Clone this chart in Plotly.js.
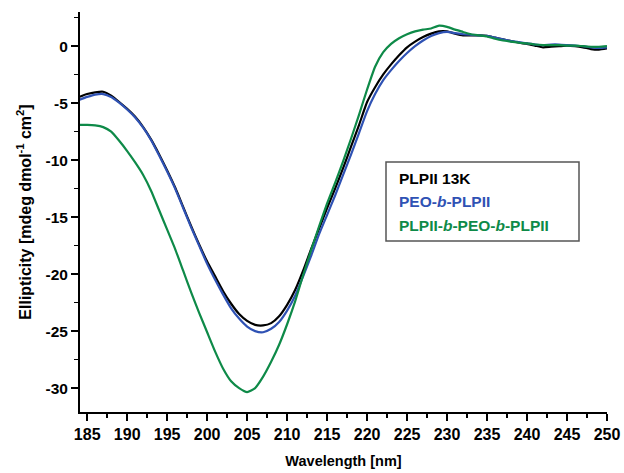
<!DOCTYPE html>
<html>
<head>
<meta charset="utf-8">
<script src="https://cdn.plot.ly/plotly-3.0.1.min.js"></script>
<style>html,body{margin:0;padding:0;background:#fff;}#chart{width:624px;height:473px;}</style>
</head>
<body>
<div id="chart"></div>
<script>
const wavelength = [184,185,186,187,188,189,190,191,192,193,194,195,196,197,198,199,200,201,202,203,204,205,206,207,208,209,210,211,212,213,214,215,216,217,218,219,220,221,222,223,224,225,226,227,228,229,230,231,232,233,234,235,236,237,238,239,240,241,242,243,244,245,246,247,248,249,250];

const plpii13k = [-4.45,-4.2,-4.05,-4.0,-4.35,-4.9,-5.5,-6.2,-7.1,-8.2,-9.5,-10.9,-12.4,-14.1,-15.8,-17.4,-18.9,-20.2,-21.5,-22.6,-23.5,-24.1,-24.45,-24.5,-24.3,-23.7,-22.7,-21.4,-19.7,-17.8,-16.0,-14.2,-12.5,-10.7,-8.8,-6.9,-4.9,-3.6,-2.5,-1.6,-0.8,-0.1,0.4,0.8,1.1,1.3,1.3,1.1,0.95,0.95,0.95,0.9,0.75,0.6,0.45,0.3,0.2,0.05,-0.1,-0.05,0.0,0.05,0.0,-0.1,-0.25,-0.3,-0.2];

const peoBPlpii = [-4.7,-4.45,-4.25,-4.2,-4.45,-4.95,-5.55,-6.25,-7.15,-8.25,-9.6,-11.0,-12.5,-14.2,-15.9,-17.5,-19.1,-20.5,-21.8,-23.0,-23.9,-24.6,-25.0,-25.1,-24.8,-24.2,-23.2,-21.9,-20.2,-18.4,-16.5,-14.8,-13.1,-11.3,-9.5,-7.6,-5.7,-4.2,-3.0,-2.1,-1.3,-0.6,0.0,0.5,0.9,1.15,1.25,1.15,1.05,1.0,0.95,0.9,0.75,0.6,0.45,0.35,0.25,0.15,0.1,0.15,0.15,0.1,0.05,0.0,-0.1,-0.15,-0.1];

const triblock = [-6.9,-6.9,-6.95,-7.1,-7.5,-8.3,-9.2,-10.2,-11.3,-12.7,-14.4,-16.1,-17.8,-19.7,-21.6,-23.4,-25.1,-26.8,-28.3,-29.4,-30.0,-30.35,-30.0,-29.0,-27.7,-26.2,-24.4,-22.4,-20.1,-17.9,-15.8,-13.8,-12.0,-10.1,-8.1,-6.0,-3.8,-1.8,-0.55,0.2,0.7,1.05,1.3,1.45,1.55,1.8,1.7,1.45,1.25,1.05,0.95,0.85,0.65,0.5,0.4,0.3,0.25,0.15,0.1,0.1,0.1,0.05,0.05,0.0,-0.05,-0.05,0.0];

const seriesNames = ["PLPII 13K", "PEO-<i>b</i>-PLPII", "PLPII-<i>b</i>-PEO-<i>b</i>-PLPII"];
const seriesColors = ["#000000", "#2f52b4", "#0e8a48"];

const xTickVals = [185,190,195,200,205,210,215,220,225,230,235,240,245,250];
const yTickVals = [0,-5,-10,-15,-20,-25,-30];

const FONT = "Arial, 'Liberation Sans', sans-serif";

const traces = [plpii13k, peoBPlpii, triblock].map((ys, i) => ({
  x: wavelength, y: ys, type: 'scatter', mode: 'lines',
  line: {color: seriesColors[i], width: 2.2, shape: 'spline', smoothing: 0.5},
  name: seriesNames[i], showlegend: false, hoverinfo: 'skip'
}));

// legend box geometry (plot area 80..607 x 12..412)
const px = v => (v - 80) / 527;
const py = v => (412 - v) / 400;

const legendY = [178, 201, 225];
const annotations = seriesNames.map((n, i) => ({
  xref: 'paper', yref: 'paper', x: px(397), y: py(legendY[i]),
  xanchor: 'left', yanchor: 'middle', showarrow: false,
  text: '<b>' + n + '</b>', font: {family: FONT, size: 15.5, color: seriesColors[i]}
}));

const layout = {
  width: 624, height: 473,
  margin: {l: 80, r: 17, t: 12, b: 61},
  paper_bgcolor: '#ffffff', plot_bgcolor: '#ffffff',
  font: {family: FONT, color: '#000'},
  xaxis: {
    range: [184.1, 250], showgrid: false, zeroline: false,
    showline: true, linecolor: '#000', linewidth: 2,
    ticks: 'outside', ticklen: 7, tickwidth: 1.8, tickcolor: '#000',
    tickvals: xTickVals, ticktext: xTickVals.map(v => '<b>' + v + '</b>'),
    tickfont: {family: FONT, size: 16, color: '#000'},
    minor: {ticks: 'outside', dtick: 2.5, tick0: 185, ticklen: 4, tickwidth: 1.5, tickcolor: '#000'},
    title: {text: '<b>Wavelength [nm]</b>', font: {family: FONT, size: 14.5, color: '#000'}, standoff: 14}
  },
  yaxis: {
    range: [-32.1, 3.0], showgrid: false, zeroline: false,
    showline: true, linecolor: '#000', linewidth: 2,
    ticks: 'outside', ticklen: 7, tickwidth: 1.8, tickcolor: '#000',
    tickvals: yTickVals, ticktext: yTickVals.map(v => '<b>' + v + '</b>'),
    tickfont: {family: FONT, size: 15.5, color: '#000'},
    minor: {ticks: 'outside', dtick: 2.5, tick0: 0, ticklen: 4, tickwidth: 1.5, tickcolor: '#000'},
    title: {text: '<b>Ellipticity [mdeg dmol<sup>-1</sup> cm<sup>2</sup>]</b>', font: {family: FONT, size: 16, color: '#000'}, standoff: 10}
  },
  shapes: [{
    type: 'rect', xref: 'paper', yref: 'paper',
    x0: px(386), x1: px(579), y0: py(241), y1: py(162),
    line: {color: '#555', width: 1.5}, fillcolor: 'rgba(255,255,255,0)'
  }],
  annotations: annotations
};

Plotly.newPlot('chart', traces, layout, {displayModeBar: false, staticPlot: true});
</script>
</body>
</html>
